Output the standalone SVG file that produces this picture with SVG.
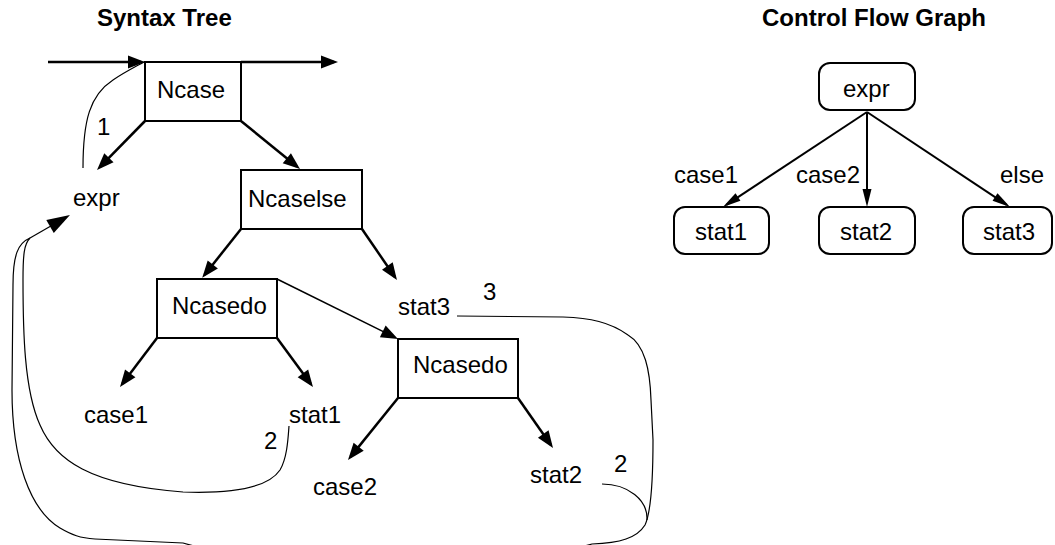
<svg xmlns="http://www.w3.org/2000/svg" width="1055" height="545" viewBox="0 0 1055 545">
  <style>
    text { font-family: "Liberation Sans", Arial, sans-serif; font-size: 24px; fill: #000; }
    .title { font-weight: bold; }
    .box { fill: #fff; stroke: #000; stroke-width: 2; }
    .edge { fill: none; stroke: #000; stroke-width: 2.5; marker-end: url(#head); }
    .thin { fill: none; stroke: #000; stroke-width: 1.5; marker-end: url(#head); }
    .link { fill: none; stroke: #000; stroke-width: 1.2; }
    .flow { fill: none; stroke: #000; stroke-width: 2; marker-end: url(#slim); }
  </style>
  <defs>
    <marker id="head" markerUnits="userSpaceOnUse" markerWidth="17" markerHeight="13" refX="13" refY="6.5" orient="auto" overflow="visible">
      <path d="M0,0 L17,6.5 L0,13 z" fill="#000"/>
    </marker>
    <marker id="big" markerUnits="userSpaceOnUse" markerWidth="23" markerHeight="15" refX="19" refY="7.5" orient="auto" overflow="visible">
      <path d="M0,0 L23,7.5 L0,15 z" fill="#000"/>
    </marker>
    <marker id="slim" markerUnits="userSpaceOnUse" markerWidth="18" markerHeight="9" refX="14" refY="4.5" orient="auto" overflow="visible">
      <path d="M0,0 L18,4.5 L0,9 z" fill="#000"/>
    </marker>
  </defs>

  <!-- headings -->
  <text class="title" x="97" y="26">Syntax Tree</text>
  <text class="title" x="762" y="26">Control Flow Graph</text>

  <!-- syntax tree: connectors -->
  <g id="tree-connectors">
    <line class="edge" x1="48" y1="62" x2="141" y2="62"/>
    <line class="edge" x1="241" y1="62" x2="334" y2="62"/>
    <line class="edge" x1="145" y1="121" x2="99.8" y2="167.1"/>
    <line class="edge" x1="241" y1="121" x2="296.9" y2="166.5"/>
    <line class="edge" x1="241" y1="229" x2="204.7" y2="274.7"/>
    <line class="edge" x1="362" y1="229" x2="394.7" y2="276.7"/>
    <line class="edge" x1="157" y1="338" x2="122.4" y2="383.8"/>
    <line class="edge" x1="277" y1="338" x2="310.6" y2="383.8"/>
    <line class="thin" x1="277" y1="279" x2="394.4" y2="337.2"/>
    <line class="edge" x1="398" y1="398" x2="350.5" y2="456.9"/>
    <line class="edge" x1="518" y1="398" x2="550.7" y2="444.7"/>

    <!-- successor links -->
    <path class="link" d="M83,168 C83,120 90,95 113,80 C125,72 135,67 144,62"/>
    <path class="link" d="M30,238 C24,244 23,255 23,280 C23,330 24,390 40,425 C55,460 90,485 183,492 C240,494 270,485 280,470 C287,458 288,440 289,426"/>
    <path class="link" d="M30,238 C18,243 13,255 13,285 L12,390 C12,460 30,510 60,528 C72,535 80,538 95,539 L183,543 Q387,600 592,544 C620,543 637,538 645,525 C652,510 653,470 653,440 L651,400 C650,370 645,345 628,335 C610,322 590,318 563,317 L457,316"/>
    <path class="link" d="M602,484 C628,484 648,500 647,520"/>
    <line class="link" x1="30" y1="238" x2="66.5" y2="217" marker-end="url(#big)"/>
  </g>

  <!-- syntax tree: nodes -->
  <g id="ncase">
    <rect class="box" x="145" y="62" width="96" height="59"/>
    <text x="157" y="98">Ncase</text>
  </g>
  <g id="expr">
    <text x="73" y="206">expr</text>
  </g>
  <g id="ncaselse">
    <rect class="box" x="241" y="170" width="121" height="59"/>
    <text x="248" y="207">Ncaselse</text>
  </g>
  <g id="ncasedo-1">
    <rect class="box" x="157" y="279" width="120" height="59"/>
    <text x="172" y="314">Ncasedo</text>
  </g>
  <g id="stat3">
    <text x="398" y="315">stat3</text>
  </g>
  <g id="ncasedo-2">
    <rect class="box" x="398" y="339" width="120" height="59"/>
    <text x="413" y="373">Ncasedo</text>
  </g>
  <g id="case1">
    <text x="84" y="423">case1</text>
  </g>
  <g id="stat1">
    <text x="289" y="423">stat1</text>
  </g>
  <g id="case2">
    <text x="313" y="495">case2</text>
  </g>
  <g id="stat2">
    <text x="530" y="483">stat2</text>
  </g>

  <!-- link numbers -->
  <g id="link-labels">
    <text x="97" y="135">1</text>
    <text x="264" y="449">2</text>
    <text x="483" y="300">3</text>
    <text x="614" y="472">2</text>
  </g>

  <!-- control flow graph: connectors -->
  <g id="cfg-connectors">
    <line class="flow" x1="867" y1="112" x2="726.3" y2="204.8"/>
    <line class="flow" x1="867" y1="112" x2="867" y2="203"/>
    <line class="flow" x1="867" y1="112" x2="1006.7" y2="204.8"/>
    <text x="674" y="183">case1</text>
    <text x="796" y="183">case2</text>
    <text x="1000" y="183">else</text>
  </g>

  <!-- control flow graph: nodes -->
  <g id="cfg-expr">
    <rect class="box" x="819" y="63" width="96" height="47" rx="11"/>
    <text x="843" y="97">expr</text>
  </g>
  <g id="cfg-stat1">
    <rect class="box" x="674" y="207" width="95" height="47" rx="11"/>
    <text x="695" y="240">stat1</text>
  </g>
  <g id="cfg-stat2">
    <rect class="box" x="819" y="207" width="96" height="47" rx="11"/>
    <text x="840" y="240">stat2</text>
  </g>
  <g id="cfg-stat3">
    <rect class="box" x="963" y="207" width="89" height="47" rx="11"/>
    <text x="983" y="240">stat3</text>
  </g>
</svg>
